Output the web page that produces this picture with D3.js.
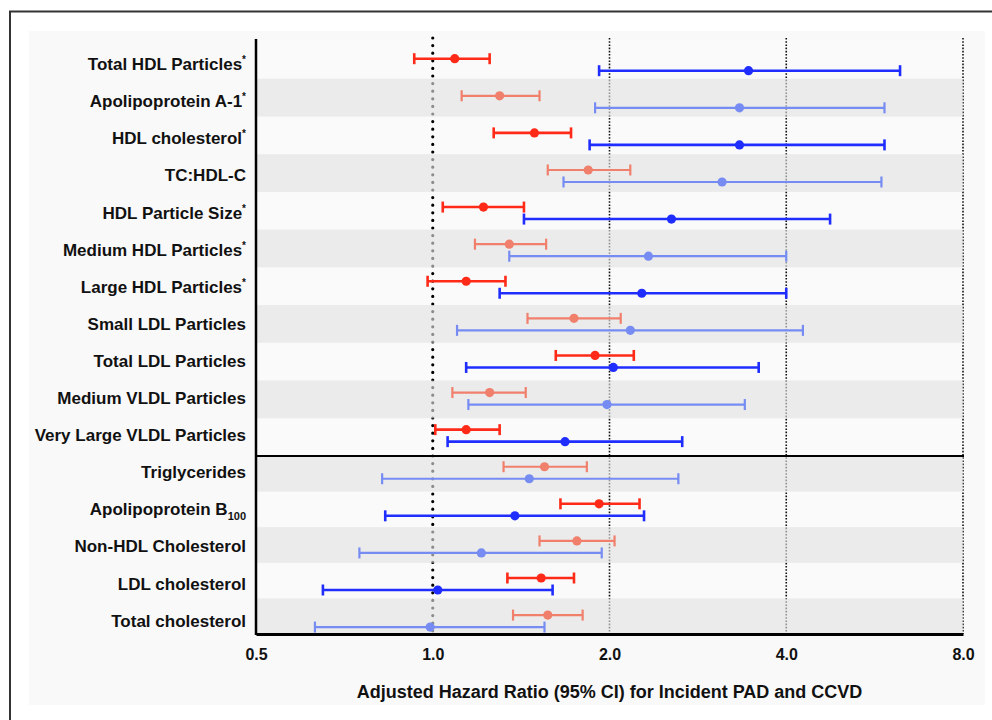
<!DOCTYPE html>
<html>
<head>
<meta charset="utf-8">
<script src="https://cdn.jsdelivr.net/npm/d3@7"></script>
<style>
  body { margin: 0; background: #fff; }
  text { font-family: "Liberation Sans", Arial, sans-serif; font-weight: bold; fill: #111; }
</style>
</head>
<body>
<div id="chart"></div>
<script>
// row labels, top to bottom
const categories = [
  'Total HDL Particles', 'Apolipoprotein A-1', 'HDL cholesterol', 'TC:HDL-C',
  'HDL Particle Size', 'Medium HDL Particles', 'Large HDL Particles',
  'Small LDL Particles', 'Total LDL Particles', 'Medium VLDL Particles',
  'Very Large VLDL Particles',
  'Triglycerides', 'Apolipoprotein B', 'Non-HDL Cholesterol', 'LDL cholesterol',
  'Total cholesterol',
];
const starred = [true, true, true, false, true, true, true, false, false, false, false,
  false, false, false, false, false];
const subscripts = ['', '', '', '', '', '', '', '', '', '', '', '', '100', '', '', ''];

// PAD (red) hazard ratios with 95% CI
const padHR = [1.09, 1.30, 1.49, 1.84, 1.22, 1.35, 1.14, 1.74, 1.89, 1.25, 1.14, 1.55, 1.92, 1.76, 1.53, 1.57];
const padLo = [0.93, 1.12, 1.27, 1.57, 1.04, 1.18, 0.98, 1.45, 1.62, 1.08, 1.01, 1.32, 1.65, 1.52, 1.34, 1.37];
const padHi = [1.25, 1.52, 1.72, 2.17, 1.43, 1.56, 1.33, 2.09, 2.20, 1.44, 1.30, 1.83, 2.25, 2.04, 1.74, 1.80];

// CCVD (blue) hazard ratios with 95% CI
const ccvdHR = [3.45, 3.33, 3.33, 3.11, 2.55, 2.33, 2.27, 2.17, 2.03, 1.98, 1.68, 1.46, 1.38, 1.21, 1.02, 0.99];
const ccvdLo = [1.92, 1.89, 1.85, 1.67, 1.43, 1.35, 1.30, 1.10, 1.14, 1.15, 1.06, 0.82, 0.83, 0.75, 0.65, 0.63];
const ccvdHi = [6.25, 5.88, 5.88, 5.81, 4.75, 4.00, 4.00, 4.27, 3.59, 3.40, 2.66, 2.62, 2.29, 1.94, 1.60, 1.55];

const tickValues = [0.5, 1, 2, 4, 8];
const splitAt = 11; // first 11 rows are the particle panel

const width = 992;
const height = 720;
const plot = { left: 256, right: 963, top: 41, bottom: 634 };

const svg = d3.select('#chart').append('svg')
  .attr('width', width)
  .attr('height', height);

// outer frame and panel background
svg.append('path')
  .attr('d', `M10,${height} V11.5 H${width}`)
  .attr('fill', 'none')
  .attr('stroke', '#333')
  .attr('stroke-width', 2);

svg.append('rect')
  .attr('x', 29).attr('y', 31)
  .attr('width', 956).attr('height', 674)
  .attr('fill', '#f9f9f9');

const xScale = d3.scaleLog().base(2)
  .domain([0.5, 8])
  .range([plot.left, plot.right]);

const bandTop = d3.scaleBand()
  .domain(categories.slice(0, splitAt))
  .range([plot.top, 456]);
const bandBottom = d3.scaleBand()
  .domain(categories.slice(splitAt))
  .range([456, plot.bottom]);
const band = name => (categories.indexOf(name) < splitAt ? bandTop : bandBottom);

const yScale = d3.scalePoint()
  .domain(categories)
  .range([64.7, 621.1]);

// white row backgrounds
svg.selectAll('.row-bg')
  .data(categories)
  .enter()
  .append('rect')
  .attr('class', 'row-bg')
  .attr('x', plot.left)
  .attr('width', plot.right - plot.left)
  .attr('y', d => band(d)(d))
  .attr('height', d => band(d).bandwidth())
  .attr('fill', '#fafafa');

// reference lines
svg.append('line')
  .attr('x1', xScale(1)).attr('x2', xScale(1))
  .attr('y1', 38).attr('y2', 637)
  .attr('stroke', '#000')
  .attr('stroke-width', 3.2)
  .attr('stroke-linecap', 'round')
  .style('stroke-dasharray', '0, 7.6');

svg.selectAll('.grid')
  .data([2, 4, 8])
  .enter()
  .append('line')
  .attr('class', 'grid')
  .attr('x1', d => xScale(d)).attr('x2', d => xScale(d))
  .attr('y1', 38).attr('y2', plot.bottom)
  .attr('stroke', '#111')
  .attr('stroke-width', 1.6)
  .style('stroke-dasharray', '1.6, 1.6');

// shaded rows drawn over the reference lines
svg.selectAll('.row-shade')
  .data(categories.filter((d, i) => i % 2 === 1))
  .enter()
  .append('rect')
  .attr('class', 'row-shade')
  .attr('x', plot.left)
  .attr('width', plot.right - plot.left)
  .attr('y', d => band(d)(d))
  .attr('height', d => band(d).bandwidth())
  .attr('fill', 'rgb(226,226,226)')
  .attr('fill-opacity', 0.62);

// axes lines
svg.append('line')
  .attr('x1', plot.left).attr('x2', plot.left)
  .attr('y1', 39).attr('y2', plot.bottom + 1)
  .attr('stroke', '#000')
  .attr('stroke-width', 2.5);

svg.append('line')
  .attr('x1', plot.left).attr('x2', plot.right + 1)
  .attr('y1', 456).attr('y2', 456)
  .attr('stroke', '#000')
  .attr('stroke-width', 2);

const xAxis = d3.axisBottom(xScale)
  .tickValues(tickValues)
  .tickFormat(d3.format('.1f'))
  .tickSize(0)
  .tickPadding(15);

const axisG = svg.append('g')
  .attr('transform', `translate(0, ${plot.bottom})`)
  .call(xAxis);
axisG.select('.domain')
  .attr('stroke', '#000')
  .attr('stroke-width', 3);
axisG.selectAll('text')
  .attr('font-family', '"Liberation Sans", Arial, sans-serif')
  .attr('font-weight', 'bold')
  .attr('font-size', 16)
  .attr('fill', '#111');

svg.append('text')
  .attr('x', (plot.left + plot.right) / 2)
  .attr('y', 698)
  .attr('text-anchor', 'middle')
  .attr('font-size', 18)
  .text('Adjusted Hazard Ratio (95% CI) for Incident PAD and CCVD');

// row labels
const labels = svg.selectAll('.row-label')
  .data(categories)
  .enter()
  .append('text')
  .attr('class', 'row-label')
  .attr('x', 246)
  .attr('y', d => yScale(d) + 5.5)
  .attr('text-anchor', 'end')
  .attr('font-size', 17);

labels.append('tspan').text(d => d);
labels.filter((d, i) => subscripts[i] !== '')
  .append('tspan')
  .attr('dy', 5)
  .attr('font-size', 11)
  .text((d, i) => subscripts[categories.indexOf(d)]);
labels.filter((d, i) => starred[i])
  .append('tspan')
  .attr('dy', -7)
  .attr('font-size', 10)
  .text('*');

// estimates: red (PAD) above, blue (CCVD) below
const series = [
  { key: 'pad', hr: padHR, lo: padLo, hi: padHi, offset: -6, dark: '#ff2a18', light: '#f07f6c' },
  { key: 'ccvd', hr: ccvdHR, lo: ccvdLo, hi: ccvdHi, offset: 6, dark: '#1f2dff', light: '#768cf2' },
];

series.forEach(function (s) {
  const rows = categories.map((name, i) => ({
    name,
    hr: s.hr[i],
    lo: s.lo[i],
    hi: s.hi[i],
    color: i % 2 === 0 ? s.dark : s.light,
    sw: i % 2 === 0 ? 2.6 : 2.2,
  }));

  const g = svg.append('g').attr('class', `est-${s.key}`);
  const yy = d => yScale(d.name) + s.offset;

  g.selectAll('.ci')
    .data(rows)
    .enter()
    .append('line')
    .attr('x1', d => xScale(d.lo))
    .attr('x2', d => xScale(d.hi))
    .attr('y1', yy).attr('y2', yy)
    .attr('stroke', d => d.color)
    .attr('stroke-width', d => d.sw);

  ['lo', 'hi'].forEach(function (end) {
    g.selectAll(`.cap-${end}`)
      .data(rows)
      .enter()
      .append('line')
      .attr('x1', d => xScale(d[end]))
      .attr('x2', d => xScale(d[end]))
      .attr('y1', d => yy(d) - 5.5)
      .attr('y2', d => yy(d) + 5.5)
      .attr('stroke', d => d.color)
      .attr('stroke-width', d => d.sw);
  });

  g.selectAll('.dot')
    .data(rows)
    .enter()
    .append('circle')
    .attr('cx', d => xScale(d.hr))
    .attr('cy', yy)
    .attr('r', 4.6)
    .attr('fill', d => d.color);
});
</script>
</body>
</html>
